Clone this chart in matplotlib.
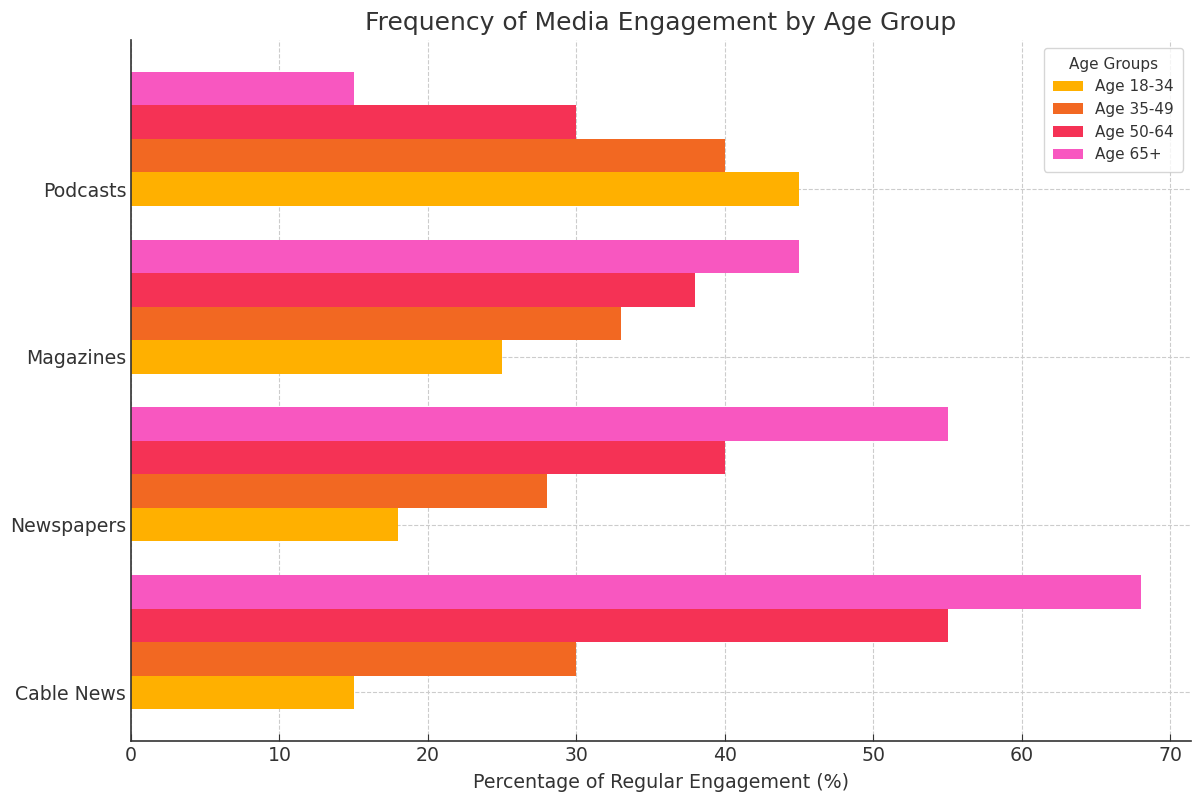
import matplotlib
matplotlib.use("Agg")
import matplotlib.pyplot as plt
import numpy as np

categories = ["Cable News", "Newspapers", "Magazines", "Podcasts"]
groups = ["Age 18-34", "Age 35-49", "Age 50-64", "Age 65+"]
age_18_34 = [15, 18, 25, 45]
age_35_49 = [30, 28, 33, 40]
age_50_64 = [55, 40, 38, 30]
age_65_plus = [68, 55, 45, 15]
series = [age_18_34, age_35_49, age_50_64, age_65_plus]
colors = ["#FFB000", "#F26822", "#F53255", "#F857C0"]

text_c = "#333333"
fig = plt.figure(figsize=(11.92, 7.96), dpi=100)
ax = fig.add_axes([131/1192, 1-741/796, (1191-131)/1192, (741-40)/796])

y = np.arange(len(categories))
h = 0.2
for k, (vals, c, g) in enumerate(zip(series, colors, groups)):
    ax.barh(y + k*h, vals, height=h, color=c, label=g, zorder=2)

ax.set_yticks(y)
ax.set_yticklabels(categories)
ax.set_xlabel("Percentage of Regular Engagement (%)", fontsize=13.7, color=text_c, labelpad=6)
ax.set_title("Frequency of Media Engagement by Age Group", fontsize=18, color=text_c, pad=7)
ax.grid(True, linestyle="--", color="#cccccc", linewidth=0.8, zorder=0)
ax.set_axisbelow(True)
for s in ["top", "right"]:
    ax.spines[s].set_visible(False)
for s in ["left", "bottom"]:
    ax.spines[s].set_color(text_c)
    ax.spines[s].set_linewidth(1.2)
ax.tick_params(direction="in", labelsize=13.6, colors=text_c, length=5)
leg = ax.legend(title="Age Groups", loc="upper right", fontsize=11, title_fontsize=11,
                frameon=True, borderpad=0.6)
leg.get_frame().set_edgecolor("#cccccc")
for t in leg.get_texts():
    t.set_color(text_c)
leg.get_title().set_color(text_c)

fig.savefig("out.png", dpi=100)
